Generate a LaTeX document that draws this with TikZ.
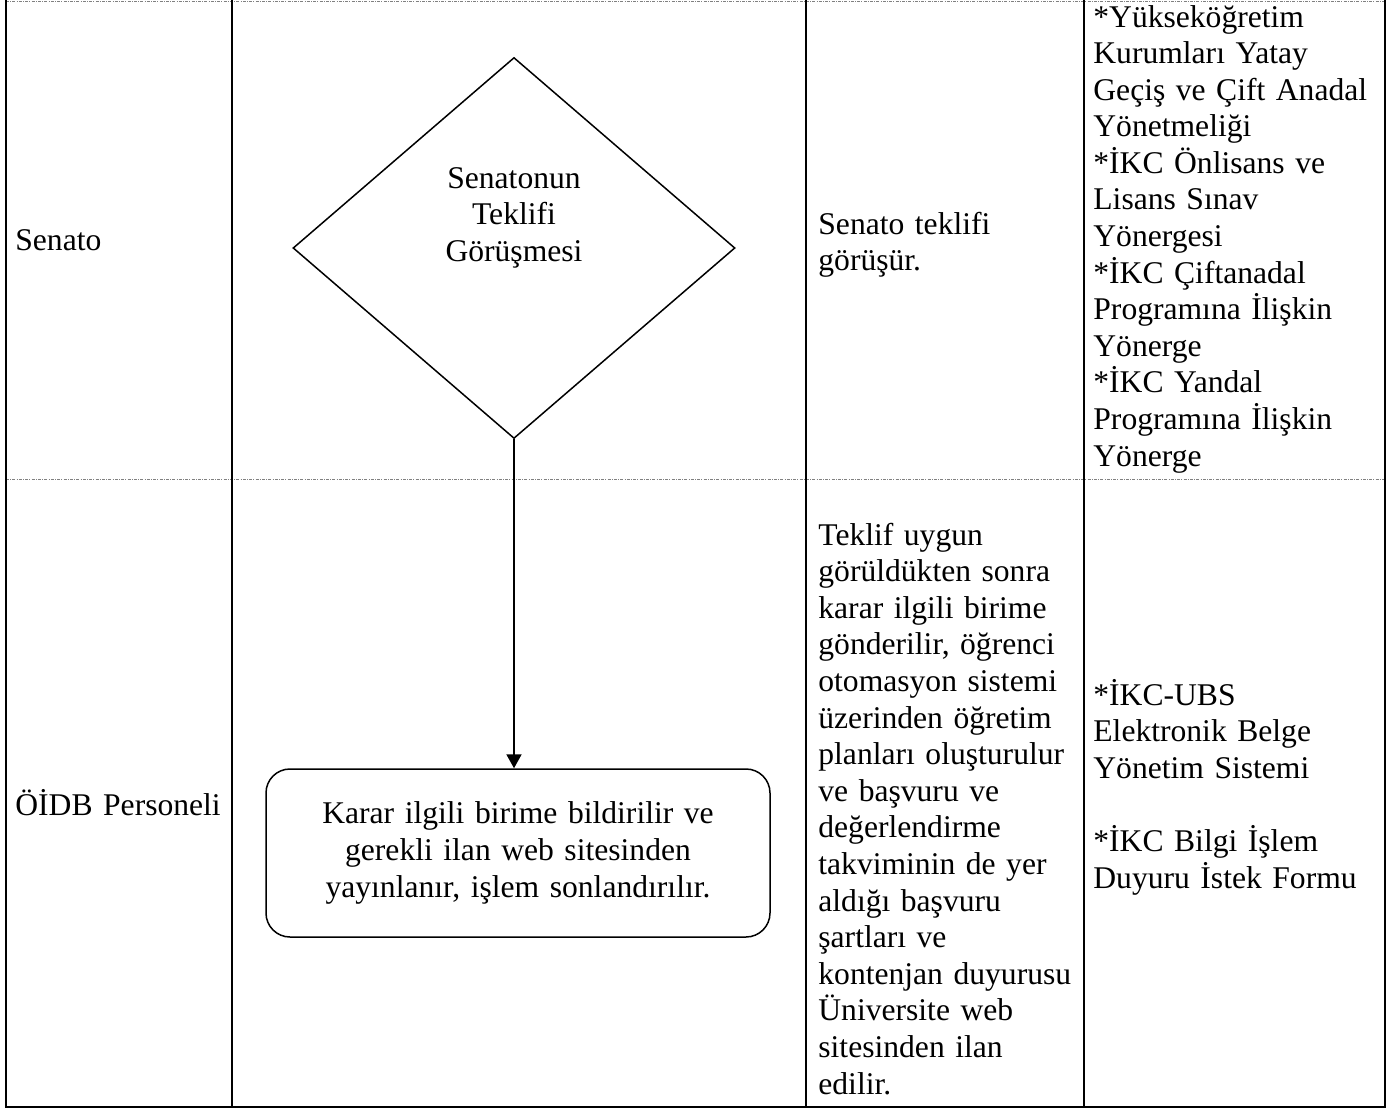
\documentclass[tikz,border=0pt]{standalone}
\usepackage{fontspec}
\setmainfont{Liberation Serif}
\usetikzlibrary{shapes.geometric,arrows.meta}

\begin{document}
\begin{tikzpicture}[x=0.5pt,y=-0.5pt,%
% common options for the texts:
yazi/.style = {rectangle, inner sep=0, align=left, text width=150pt, anchor=base west,
            font=\fontsize{15.8pt}{18.3pt}\selectfont},
% common options for the flow shapes:
karar/.style = {diamond, draw, line width=0.75pt, inner sep=0,
            minimum width=221pt, minimum height=190.5pt},
islem/.style = {rectangle, draw, rounded corners=12pt, line width=0.75pt, align=center,
            text width=230pt, minimum width=252pt, minimum height=84pt, inner sep=0,
            font=\fontsize{15.8pt}{18.3pt}\selectfont},
% common options for the table lines:
cizgi/.style = {line width=1.2pt},
ayrac/.style = {gray, line width=0.5pt, dash pattern=on 1.5pt off 0.6pt on 0.5pt off 0.6pt}]
\useasboundingbox (0,0) rectangle (1399,1108);

% table
\draw[ayrac] (6,1) -- (1385,1);
\draw[ayrac] (6,479) -- (1385,479);
\draw[cizgi] (6,0) -- (6,1107) -- (1385,1107) -- (1385,0);
\draw[cizgi] (232,0) -- (232,1107);
\draw[cizgi] (806,0) -- (806,1107);
\draw[cizgi] (1084,0) -- (1084,1107);

% Senato
\node[yazi] (A1) at (15,250) {Senato};
\node[karar] (gorusme) at (514,248) {};
\node[yazi, align=center, anchor=base] (gorusmeyazi) at (514,188) {Senatonun\\Teklifi\\Görüşmesi};
\node[yazi] (B1) at (818,234) {Senato teklifi\\görüşür.};
\node[yazi] (C1) at (1093,27) {*Yükseköğretim\\Kurumları Yatay\\Geçiş ve Çift Anadal\\Yönetmeliği\\{*}İKC Önlisans ve\\Lisans Sınav\\Yönergesi\\{*}İKC Çiftanadal\\Programına İlişkin\\Yönerge\\{*}İKC Yandal\\Programına İlişkin\\Yönerge};

% OIDB Personeli
\node[yazi] (A2) at (15,815) {ÖİDB Personeli};
\node[islem] (ilan) at (518,853) {Karar ilgili birime bildirilir ve\\gerekli ilan web sitesinden\\yayınlanır, işlem sonlandırılır.};
\node[yazi] (B2) at (818,545) {Teklif uygun\\görüldükten sonra\\karar ilgili birime\\gönderilir, öğrenci\\otomasyon sistemi\\üzerinden öğretim\\planları oluşturulur\\ve başvuru ve\\değerlendirme\\takviminin de yer\\aldığı başvuru\\şartları ve\\kontenjan duyurusu\\Üniversite web\\sitesinden ilan\\edilir.};
\node[yazi] (C2) at (1093,705) {*İKC-UBS\\Elektronik Belge\\Yönetim Sistemi\\[18.3pt]*İKC Bilgi İşlem\\Duyuru İstek Formu};

\draw[line width=1pt, -{Triangle[width=7.5pt, length=7pt]}] (gorusme.south) -- (gorusme.south |- ilan.north);
\end{tikzpicture}
\end{document}
